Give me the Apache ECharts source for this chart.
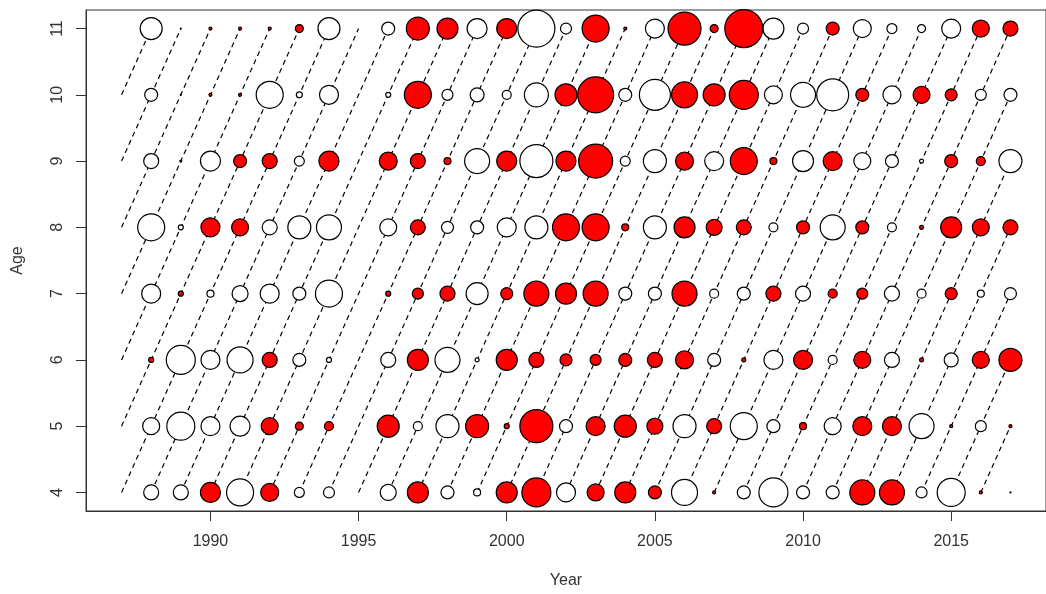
<!DOCTYPE html>
<html>
<head>
<meta charset="utf-8">
<style>
html,body{margin:0;padding:0;background:#fff;}
#chart{width:1046px;height:594px;}
</style>
<script src="https://cdn.jsdelivr.net/npm/echarts@6/dist/echarts.min.js"></script>
</head>
<body>
<div id="chart"></div>
<script>
// ---- data ----
const years = [1988,1989,1990,1991,1992,1993,1994,1995,1996,1997,1998,1999,2000,2001,2002,2003,2004,2005,2006,2007,2008,2009,2010,2011,2012,2013,2014,2015,2016,2017];
const ages = [4,5,6,7,8,9,10,11];
const xTickLabels = [1990,1995,2000,2005,2010,2015];
const yTickLabels = [4,5,6,7,8,9,10,11];
const cohortLineYears = [1987, 2017];
// residuals by age (positive = red, negative = white); null = no data
const resAge4  = [-1.5,-1.5,2.0,-2.7,1.8,-1.0,-1.1,null,-1.6,2.1,-1.3,-0.7,2.1,2.9,-1.9,1.7,2.1,1.3,-2.6,0.3,-1.3,-2.9,-1.3,-1.3,2.5,2.5,-1.1,-2.8,0.3,0.1];
const resAge5  = [-1.7,-2.8,-1.9,-2.0,1.7,0.8,0.9,null,2.2,-0.9,-2.3,2.3,0.5,3.3,-1.3,1.9,2.2,1.6,-2.3,1.5,-2.7,-1.3,0.7,-1.7,1.9,1.9,-2.5,0.3,-1.1,0.3];
const resAge6  = [0.5,-2.9,-1.9,-2.6,1.5,-1.3,-0.5,null,-1.5,2.1,-2.5,-0.4,2.1,1.5,1.2,1.1,1.3,1.5,1.8,-1.3,0.4,-1.9,1.9,-0.9,1.7,-1.5,0.4,-1.4,1.7,2.3];
const resAge7  = [-1.9,0.5,-0.7,-1.6,-1.9,-1.3,-2.7,null,0.5,1.1,1.5,-2.2,1.2,2.5,2.1,2.5,-1.3,-1.3,2.5,-0.9,-1.3,1.5,-1.5,0.9,1.1,-1.5,-0.9,1.2,-0.7,-1.2];
const resAge8  = [-2.7,-0.5,1.9,1.7,-1.5,-2.3,-2.5,null,-1.7,1.5,-1.2,-1.3,-1.9,-2.3,2.7,2.7,0.7,-2.3,2.1,1.6,1.5,-0.9,1.3,-2.5,1.3,-0.9,0.4,2.1,1.7,1.5];
const resAge9  = [-1.5,0.2,-2.0,1.3,1.5,-1.0,2.0,null,1.8,1.5,0.7,-2.5,2.0,-3.3,2.0,3.4,-1.0,-2.3,1.8,-1.9,2.7,0.7,-2.1,1.9,-1.7,-1.3,-0.4,1.3,0.9,-2.3];
const resAge10 = [-1.3,0.1,0.3,0.3,-2.7,-0.6,-1.9,null,-0.5,2.7,-1.1,-1.4,-0.9,-2.4,2.2,3.6,-1.3,-3.1,2.6,2.2,2.9,-1.8,-2.5,-3.2,1.3,-1.8,1.7,1.2,-1.1,-1.3];
const resAge11 = [-2.2,0.1,0.3,0.3,0.3,0.8,-2.2,null,-1.3,2.3,2.1,-2.0,2.0,-3.7,-1.1,2.7,0.3,-1.9,3.3,0.8,3.8,-2.1,-1.1,1.3,-1.8,-1.0,-0.8,-1.9,1.7,1.5];
const residualsByAge = [resAge4,resAge5,resAge6,resAge7,resAge8,resAge9,resAge10,resAge11];

// ---- build ----
const pos = [], neg = [];
ages.forEach((age, i) => {
  residualsByAge[i].forEach((v, j) => {
    if (v === null) return;
    (v >= 0 ? pos : neg).push([years[j], age, v]);
  });
});

const minAge = ages[0], maxAge = ages[ages.length - 1];
const lineSeries = [];
for (let c = cohortLineYears[0] - maxAge; c <= cohortLineYears[1] - minAge; c++) {
  const y0 = Math.max(cohortLineYears[0], c + minAge);
  const y1 = Math.min(cohortLineYears[1], c + maxAge);
  if (y1 <= y0) continue;
  lineSeries.push({
    type: 'line',
    data: [[y0, y0 - c], [y1, y1 - c]],
    symbol: 'none',
    silent: true,
    z: 1,
    lineStyle: { color: '#000', width: 1.2, type: [5, 4] },
    animation: false
  });
}

const sizeFn = d => Math.abs(d[2]) * 10;
const xSpan = cohortLineYears[1] - cohortLineYears[0];
const ySpan = maxAge - minAge;
const FONT = 'Liberation Sans, Arial, sans-serif';

const chart = echarts.init(document.getElementById('chart'));
chart.setOption({
  backgroundColor: '#fff',
  animation: false,
  grid: {
    left: 86, top: 10, width: 969, height: 501,
    show: true, borderColor: '#333', borderWidth: 1, backgroundColor: 'transparent'
  },
  xAxis: {
    type: 'value',
    min: cohortLineYears[0] - 0.04 * xSpan,
    max: cohortLineYears[1] + 0.04 * xSpan,
    name: 'Year',
    nameLocation: 'middle',
    nameGap: 62,
    nameTextStyle: { fontFamily: FONT, fontSize: 16, color: '#333' },
    axisLine: { show: true, lineStyle: { color: '#333', width: 1 } },
    axisTick: { show: true, length: 10, lineStyle: { color: '#333' }, customValues: xTickLabels },
    axisLabel: { customValues: xTickLabels, formatter: v => String(v), margin: 23, fontFamily: FONT, fontSize: 16, color: '#333' },
    splitLine: { show: false }
  },
  yAxis: {
    type: 'value',
    min: minAge - 0.04 * ySpan,
    max: maxAge + 0.04 * ySpan,
    name: 'Age',
    nameLocation: 'middle',
    nameGap: 60,
    nameRotate: 90,
    nameTextStyle: { fontFamily: FONT, fontSize: 16, color: '#333' },
    axisLine: { show: true, lineStyle: { color: '#333', width: 1 } },
    axisTick: { show: true, length: 10, lineStyle: { color: '#333' }, customValues: yTickLabels },
    axisLabel: { customValues: yTickLabels, formatter: v => String(v), rotate: 90, margin: 20, fontFamily: FONT, fontSize: 16, color: '#333' },
    splitLine: { show: false }
  },
  series: lineSeries.concat([
    {
      type: 'scatter', name: 'negative', data: neg, symbol: 'circle', symbolSize: sizeFn, z: 3,
      itemStyle: { color: '#fff', borderColor: '#000', borderWidth: 1.2, opacity: 1 }
    },
    {
      type: 'scatter', name: 'positive', data: pos, symbol: 'circle', symbolSize: sizeFn, z: 3,
      itemStyle: { color: '#ff0000', borderColor: '#000', borderWidth: 1.2, opacity: 1 }
    }
  ])
});
</script>
</body>
</html>
